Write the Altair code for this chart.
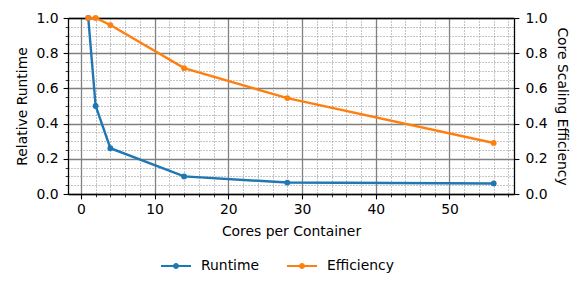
import altair as alt
import pandas as pd

cores = [1, 2, 4, 14, 28, 56]
runtime = [1.0, 0.5, 0.26, 0.10, 0.065, 0.06]
efficiency = [1.0, 1.0, 0.96, 0.715, 0.545, 0.29]
series = ["Runtime", "Efficiency"]
colors = ["#1f77b4", "#ff7f0e"]

x_major = [0, 10, 20, 30, 40, 50]
x_minor = [2, 4, 6, 8, 12, 14, 16, 18, 22, 24, 26, 28, 32, 34, 36, 38,
           42, 44, 46, 48, 52, 54, 56, 58]
y_major = [0.0, 0.2, 0.4, 0.6, 0.8, 1.0]
y_minor = [0.05, 0.1, 0.15, 0.25, 0.3, 0.35, 0.45, 0.5, 0.55, 0.65, 0.7,
           0.75, 0.85, 0.9, 0.95]

rows = []
for c, r, e in zip(cores, runtime, efficiency):
    rows.append({"cores": c, "value": r, "series": series[0]})
    rows.append({"cores": c, "value": e, "series": series[1]})
df = pd.DataFrame(rows)

FONT = "DejaVu Sans"
FS = 13.9
xs = alt.Scale(domain=[-1.75, 58.75], nice=False, zero=False)
ys = alt.Scale(domain=[0, 1], nice=False, zero=False)

base = alt.Chart(df)

# minor grid + minor ticks
minor = base.mark_line(opacity=0).encode(
    x=alt.X("cores:Q", scale=xs, axis=alt.Axis(
        orient="bottom",
        values=x_minor, labels=False, title=None, domain=False,
        ticks=True, tickSize=2.8, tickWidth=0.8, tickColor="black",
        grid=True, gridColor="#8a8a8a", gridDash=[1, 2], gridWidth=1)),
    y=alt.Y("value:Q", scale=ys, axis=alt.Axis(
        orient="left",
        values=y_minor, labels=False, title=None, domain=False,
        ticks=True, tickSize=2.8, tickWidth=0.8, tickColor="black",
        grid=True, gridColor="#8a8a8a", gridDash=[1, 2], gridWidth=1)),
)

# major grid
major_grid = base.mark_line(opacity=0).encode(
    x=alt.X("cores:Q", scale=xs, axis=alt.Axis(
        orient="bottom",
        values=x_major, labels=False, title=None, domain=False, ticks=False,
        grid=True, gridColor="#808080", gridWidth=1.3)),
    y=alt.Y("value:Q", scale=ys, axis=alt.Axis(
        orient="left",
        values=y_major, labels=False, title=None, domain=False, ticks=False,
        grid=True, gridColor="#808080", gridWidth=1.3)),
)

# lines with main axes (stroke scale domain listed in another order so
# that its disabled legend is not merged with the colour legend)
lines = base.mark_line(strokeWidth=2.4).encode(
    x=alt.X("cores:Q", scale=xs, title="Cores per Container", axis=alt.Axis(
        orient="bottom",
        values=x_major, format="d", grid=False, domain=True, domainColor="black",
        domainWidth=1.3, ticks=True, tickSize=4.9, tickWidth=1.1, tickColor="black",
        labelFontSize=FS, labelFont=FONT, labelColor="black", labelPadding=4,
        titleFontSize=FS, titleFont=FONT, titleFontWeight="normal",
        titleColor="black", titlePadding=8)),
    y=alt.Y("value:Q", scale=ys, title="Relative Runtime", axis=alt.Axis(
        orient="left",
        values=y_major, format=".1f", grid=False, domain=True, domainColor="black",
        domainWidth=1.3, ticks=True, tickSize=4.9, tickWidth=1.1, tickColor="black",
        labelFontSize=FS, labelFont=FONT, labelColor="black", labelPadding=5,
        titleFontSize=FS, titleFont=FONT, titleFontWeight="normal",
        titleColor="black", titlePadding=7)),
    stroke=alt.Stroke("series:N", scale=alt.Scale(domain=series[::-1], range=colors[::-1]),
                      legend=None),
    detail="series:N",
)

sym = ("M-1,-0.07H1V0.07H-1Z"
       "M-0.2,0A0.2,0.2,0,1,1,0.2,0A0.2,0.2,0,1,1,-0.2,0Z")

points = base.mark_point(filled=True, size=34, opacity=1).encode(
    x=alt.X("cores:Q", scale=xs, axis=None),
    y=alt.Y("value:Q", scale=ys, axis=None),
    color=alt.Color("series:N", scale=alt.Scale(domain=series, range=colors),
                    legend=alt.Legend(
                        title=None, orient="none", direction="horizontal",
                        legendX=93, legendY=233, padding=0,
                        symbolType=sym, symbolSize=900, symbolStrokeWidth=0,
                        symbolOpacity=1,
                        labelFontSize=FS, labelFont=FONT, labelColor="black",
                        labelOffset=10, columnPadding=27)),
)

# right + top spines
right = base.mark_line(opacity=0).encode(
    x=alt.X("cores:Q", scale=xs, axis=alt.Axis(
        orient="top", labels=False, ticks=False, grid=False, title=None,
        domain=True, domainColor="black", domainWidth=1.3)),
    y=alt.Y("value:Q", scale=ys, title="Core Scaling Efficiency", axis=alt.Axis(
        orient="right", values=y_major, format=".1f", grid=False, domain=True,
        domainColor="black", domainWidth=1.3, ticks=True, tickSize=4.9,
        tickWidth=1.1, tickColor="black",
        labelFontSize=FS, labelFont=FONT, labelColor="black", labelPadding=6,
        titleFontSize=FS, titleFont=FONT, titleFontWeight="normal",
        titleColor="black", titlePadding=8)),
)

chart = alt.layer(minor, major_grid, lines, points, right).resolve_axis(
    x="independent", y="independent"
).properties(
    width=446, height=176,
    autosize=alt.AutoSizeParams(type="none"),
    padding={"left": 60, "top": 10, "right": 58, "bottom": 80},
).configure_view(stroke=None).configure(font=FONT)

chart.save("out.html", embed_options={"renderer": "svg", "actions": False})
